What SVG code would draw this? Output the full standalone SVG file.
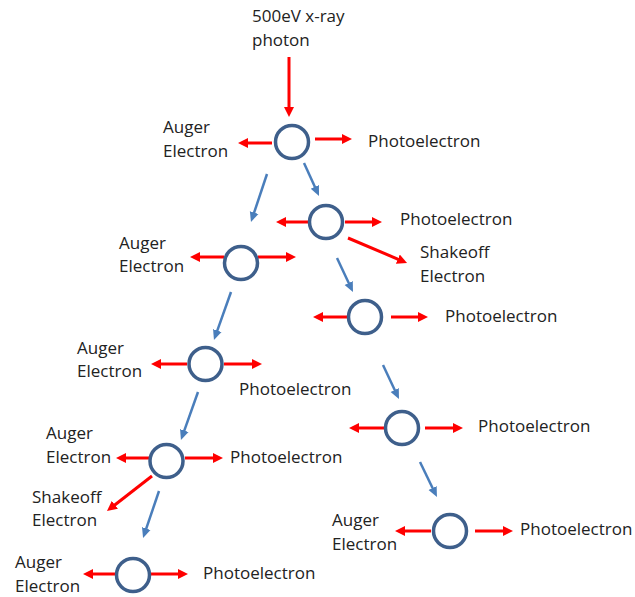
<svg xmlns="http://www.w3.org/2000/svg" width="635" height="597" viewBox="0 0 635 597">
<defs>
<style>
.t{font-family:"Open Sans","Liberation Sans",sans-serif;font-size:17px;fill:#222}
.n{fill:#fff;stroke:#3E5F8B;stroke-width:3.5}
.r{stroke:#FF0000;stroke-width:3;fill:none;marker-end:url(#ar)}
.b{stroke:#4A7EBB;stroke-width:2.5;fill:none;marker-end:url(#ab)}
</style>
<marker id="ar" markerUnits="userSpaceOnUse" markerWidth="11" markerHeight="11" refX="3" refY="5" orient="auto">
<path d="M0,0 L10,5 L0,10 z" fill="#FF0000"/>
</marker>
<marker id="ab" markerUnits="userSpaceOnUse" markerWidth="11" markerHeight="11" refX="3" refY="5" orient="auto">
<path d="M0,0.5 L10,5 L0,9.5 z" fill="#4A7EBB"/>
</marker>
</defs>
<rect width="635" height="597" fill="#fff"/>
<g id="connectors">
<line class="r" x1="289" y1="57" x2="289" y2="110"/>
<line class="r" x1="272" y1="143" x2="245" y2="143"/>
<line class="r" x1="315" y1="139" x2="345" y2="139"/>
<line class="r" x1="308" y1="222" x2="283" y2="222"/>
<line class="r" x1="345" y1="222" x2="375" y2="222"/>
<line class="r" x1="348" y1="238" x2="400.6" y2="260.3"/>
<line class="r" x1="224" y1="257" x2="197" y2="257"/>
<line class="r" x1="258" y1="257" x2="289" y2="257"/>
<line class="r" x1="347" y1="317" x2="320" y2="317"/>
<line class="r" x1="391" y1="317" x2="421" y2="317"/>
<line class="r" x1="187" y1="364" x2="158" y2="364"/>
<line class="r" x1="224" y1="364" x2="255" y2="364"/>
<line class="r" x1="384" y1="428" x2="356" y2="428"/>
<line class="r" x1="425" y1="428" x2="456" y2="428"/>
<line class="r" x1="149" y1="458" x2="123" y2="458"/>
<line class="r" x1="185" y1="458" x2="216" y2="458"/>
<line class="r" x1="152" y1="476" x2="112.5" y2="506.7"/>
<line class="r" x1="431" y1="531" x2="402" y2="531"/>
<line class="r" x1="475" y1="531" x2="506" y2="531"/>
<line class="r" x1="116" y1="574" x2="90" y2="574"/>
<line class="r" x1="151" y1="574" x2="181" y2="574"/>
<line class="b" x1="267" y1="174" x2="253.2" y2="215.4"/>
<line class="b" x1="304" y1="163" x2="316.1" y2="189.6"/>
<line class="b" x1="337" y1="258" x2="350" y2="285.7"/>
<line class="b" x1="231" y1="292" x2="216.3" y2="333.4"/>
<line class="b" x1="383" y1="365" x2="396" y2="392.7"/>
<line class="b" x1="198" y1="392" x2="183.3" y2="433.4"/>
<line class="b" x1="420" y1="462" x2="433.9" y2="490.7"/>
<line class="b" x1="159" y1="491" x2="145.3" y2="531.4"/>
</g>
<g id="photon"><text class="t" x="252" y="22">500eV x-ray</text><text class="t" x="252" y="46">photon</text></g>
<g id="n1"><circle class="n" cx="292" cy="142" r="16.5"/>
<text class="t" x="163" y="133">Auger</text><text class="t" x="163" y="157">Electron</text>
<text class="t" x="368" y="147">Photoelectron</text></g>
<g id="n2"><circle class="n" cx="326" cy="222" r="16.5"/>
<text class="t" x="400" y="225">Photoelectron</text>
<text class="t" x="420" y="258">Shakeoff</text><text class="t" x="420" y="282">Electron</text></g>
<g id="n3"><circle class="n" cx="241" cy="263" r="16.5"/>
<text class="t" x="119" y="249">Auger</text><text class="t" x="119" y="272">Electron</text></g>
<g id="n4"><circle class="n" cx="365" cy="317" r="16.5"/>
<text class="t" x="445" y="322">Photoelectron</text></g>
<g id="n5"><circle class="n" cx="205.5" cy="364" r="16.5"/>
<text class="t" x="77" y="354">Auger</text><text class="t" x="77" y="377">Electron</text>
<text class="t" x="239" y="395">Photoelectron</text></g>
<g id="n6"><circle class="n" cx="402" cy="428" r="16.5"/>
<text class="t" x="478" y="432">Photoelectron</text></g>
<g id="n7"><circle class="n" cx="166.5" cy="461" r="16.5"/>
<text class="t" x="46" y="439">Auger</text><text class="t" x="46" y="463">Electron</text>
<text class="t" x="230" y="463">Photoelectron</text>
<text class="t" x="32" y="503">Shakeoff</text><text class="t" x="32" y="526">Electron</text></g>
<g id="n8"><circle class="n" cx="450" cy="531" r="16.5"/>
<text class="t" x="332" y="526">Auger</text><text class="t" x="332" y="550">Electron</text>
<text class="t" x="520" y="535">Photoelectron</text></g>
<g id="n9"><circle class="n" cx="133" cy="575" r="16.5"/>
<text class="t" x="15" y="568">Auger</text><text class="t" x="15" y="592">Electron</text>
<text class="t" x="203" y="579">Photoelectron</text></g>
</svg>
